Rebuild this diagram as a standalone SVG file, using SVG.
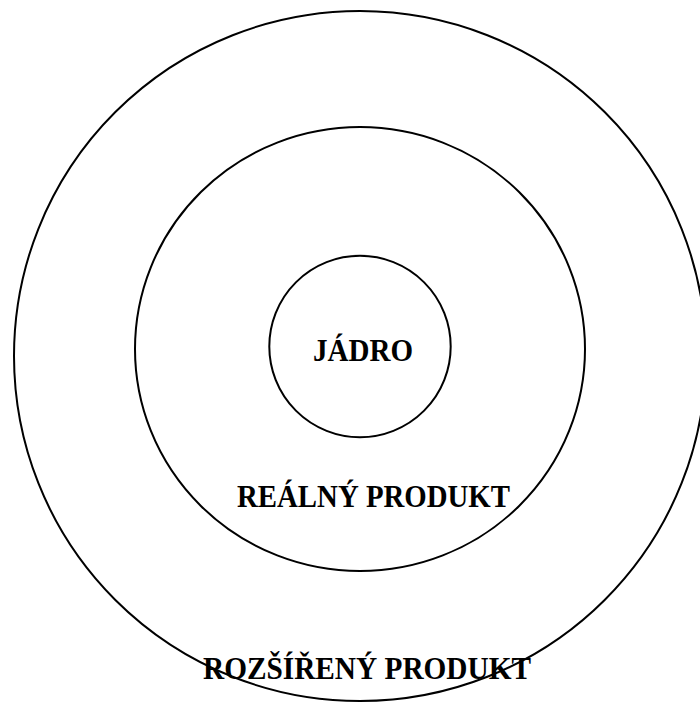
<svg xmlns="http://www.w3.org/2000/svg" width="700" height="702" viewBox="0 0 700 702">
<style>
.ring{fill:none;stroke:#000;stroke-width:2}
.lbl{font-family:"Liberation Serif","Times New Roman",serif;font-weight:bold;font-size:31px;fill:#000}
</style>
<rect width="700" height="702" fill="#fff"/>
<g id="outer">
<ellipse class="ring" cx="360" cy="356" rx="346" ry="345"/>
<text class="lbl" x="203" y="679" textLength="328" lengthAdjust="spacingAndGlyphs">ROZŠÍŘENÝ PRODUKT</text>
</g>
<g id="middle">
<ellipse class="ring" cx="360" cy="349" rx="225" ry="222"/>
<text class="lbl" x="237" y="507" textLength="273" lengthAdjust="spacingAndGlyphs">REÁLNÝ PRODUKT</text>
</g>
<g id="core">
<circle class="ring" cx="360" cy="346.5" r="90.7"/>
<text class="lbl" x="313" y="361" textLength="100" lengthAdjust="spacingAndGlyphs">JÁDRO</text>
</g>
<g id="connectors"/>
</svg>
